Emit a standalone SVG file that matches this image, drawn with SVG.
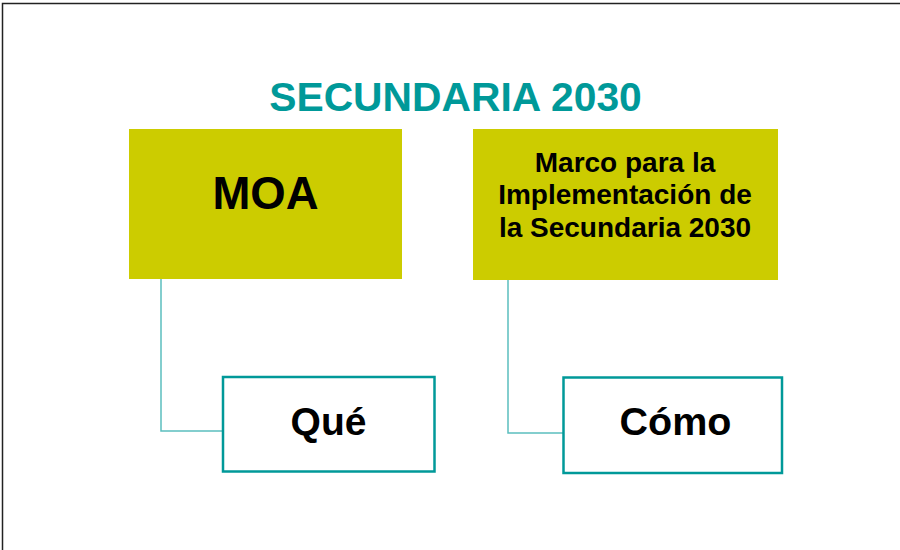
<svg xmlns="http://www.w3.org/2000/svg" width="900" height="550" viewBox="0 0 900 550">
<style>
text{font-family:"Liberation Sans",Arial,sans-serif;font-weight:bold;text-anchor:middle}
.top{fill:#CCCC00}
.bot{fill:#fff;stroke:#009999;stroke-width:2.5}
.conn{fill:none;stroke:#5BBFBF;stroke-width:1.5}
</style>
<rect width="900" height="550" fill="#fff"/>
<path d="M2.5 550V3.5H900" fill="none" stroke="#222" stroke-width="1.5"/>
<text x="455.5" y="110.5" font-size="40.8" fill="#009999">SECUNDARIA 2030</text>
<g id="connectors">
<path class="conn" d="M161 279V431H223"/>
<path class="conn" d="M508 280V433H563"/>
</g>
<g id="moa">
<rect class="top" x="129" y="129" width="273" height="150"/>
<text x="265.5" y="209" font-size="45.5">MOA</text>
</g>
<g id="marco">
<rect class="top" x="473" y="129" width="305" height="151"/>
<text font-size="28"><tspan x="625" y="171.5">Marco para la</tspan><tspan x="625" y="204">Implementación de</tspan><tspan x="625" y="236.5">la Secundaria 2030</tspan></text>
</g>
<g id="que">
<rect class="bot" x="223" y="377" width="211.5" height="94.5"/>
<text x="328.5" y="435" font-size="39">Qué</text>
</g>
<g id="como">
<rect class="bot" x="563.5" y="377.5" width="218.5" height="95.5"/>
<text x="675.5" y="435" font-size="39.5">Cómo</text>
</g>
</svg>
